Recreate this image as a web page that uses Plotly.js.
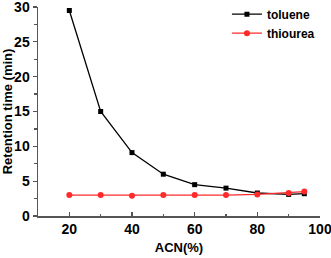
<!DOCTYPE html>
<html>
<head>
<script src="https://cdn.plot.ly/plotly-3.0.1.min.js"></script>
<style>html,body{margin:0;padding:0;background:#fff;}#chart{width:331px;height:258px;}</style>
</head>
<body>
<div id="chart"></div>
<script>
const acn = [20, 30, 40, 50, 60, 70, 80, 90, 95];
const toluene = [29.5, 15.0, 9.1, 6.0, 4.5, 4.0, 3.3, 3.1, 3.2];
const thiourea = [3.0, 3.0, 2.9, 3.0, 3.0, 3.0, 3.1, 3.3, 3.5];
const seriesNames = ['toluene', 'thiourea'];

const font = 'Liberation Sans, Arial, sans-serif';
const traces = [
  {x: acn, y: toluene, name: '<b>' + seriesNames[0] + '</b>', mode: 'lines+markers', type: 'scatter',
   line: {color: '#000000', width: 1.3}, marker: {symbol: 'square', size: 5, color: '#000000'}},
  {x: acn, y: thiourea, name: '<b>' + seriesNames[1] + '</b>', mode: 'lines+markers', type: 'scatter',
   line: {color: '#ff2a2a', width: 1.3}, marker: {symbol: 'circle', size: 6, color: '#ff2a2a'}}
];
const axisCommon = {
  showline: true, linecolor: '#555555', linewidth: 1.5, showgrid: false, zeroline: false,
  tickcolor: '#555555', tickwidth: 1.2, ticklen: 4,
  tickfont: {family: font, size: 14, color: '#000'},
  tickprefix: '<b>', ticksuffix: '</b>',
  ticklabeloverflow: 'allow',
  mirror: false
};
const layout = {
  width: 331, height: 258,
  margin: {l: 38, r: 11, t: 7, b: 42, autoexpand: false},
  paper_bgcolor: '#fff', plot_bgcolor: '#fff',
  showlegend: true,
  legend: {x: 0.67, y: 1.035, xanchor: 'left', yanchor: 'top', bgcolor: 'rgba(0,0,0,0)',
    font: {family: font, size: 12, color: '#000'}, tracegroupgap: 0, itemwidth: 30},
  xaxis: Object.assign({}, axisCommon, {
    range: [10, 100], tick0: 20, dtick: 20, ticks: 'inside',
    minor: {dtick: 10, tick0: 10, ticks: 'inside', ticklen: 2.5, tickcolor: '#555555'},
    title: {text: '<b>ACN(%)</b>', font: {family: font, size: 13, color: '#000'}, standoff: 6}
  }),
  yaxis: Object.assign({}, axisCommon, {
    range: [0, 30], tick0: 0, dtick: 5, ticks: 'outside',
    minor: {dtick: 2.5, ticks: 'outside', ticklen: 2.5, tickcolor: '#555555'},
    title: {text: '<b>Retention time (min)</b>', font: {family: font, size: 13, color: '#000'}, standoff: 3}
  })
};
Plotly.newPlot('chart', traces, layout, {displayModeBar: false, staticPlot: true});
</script>
</body>
</html>
